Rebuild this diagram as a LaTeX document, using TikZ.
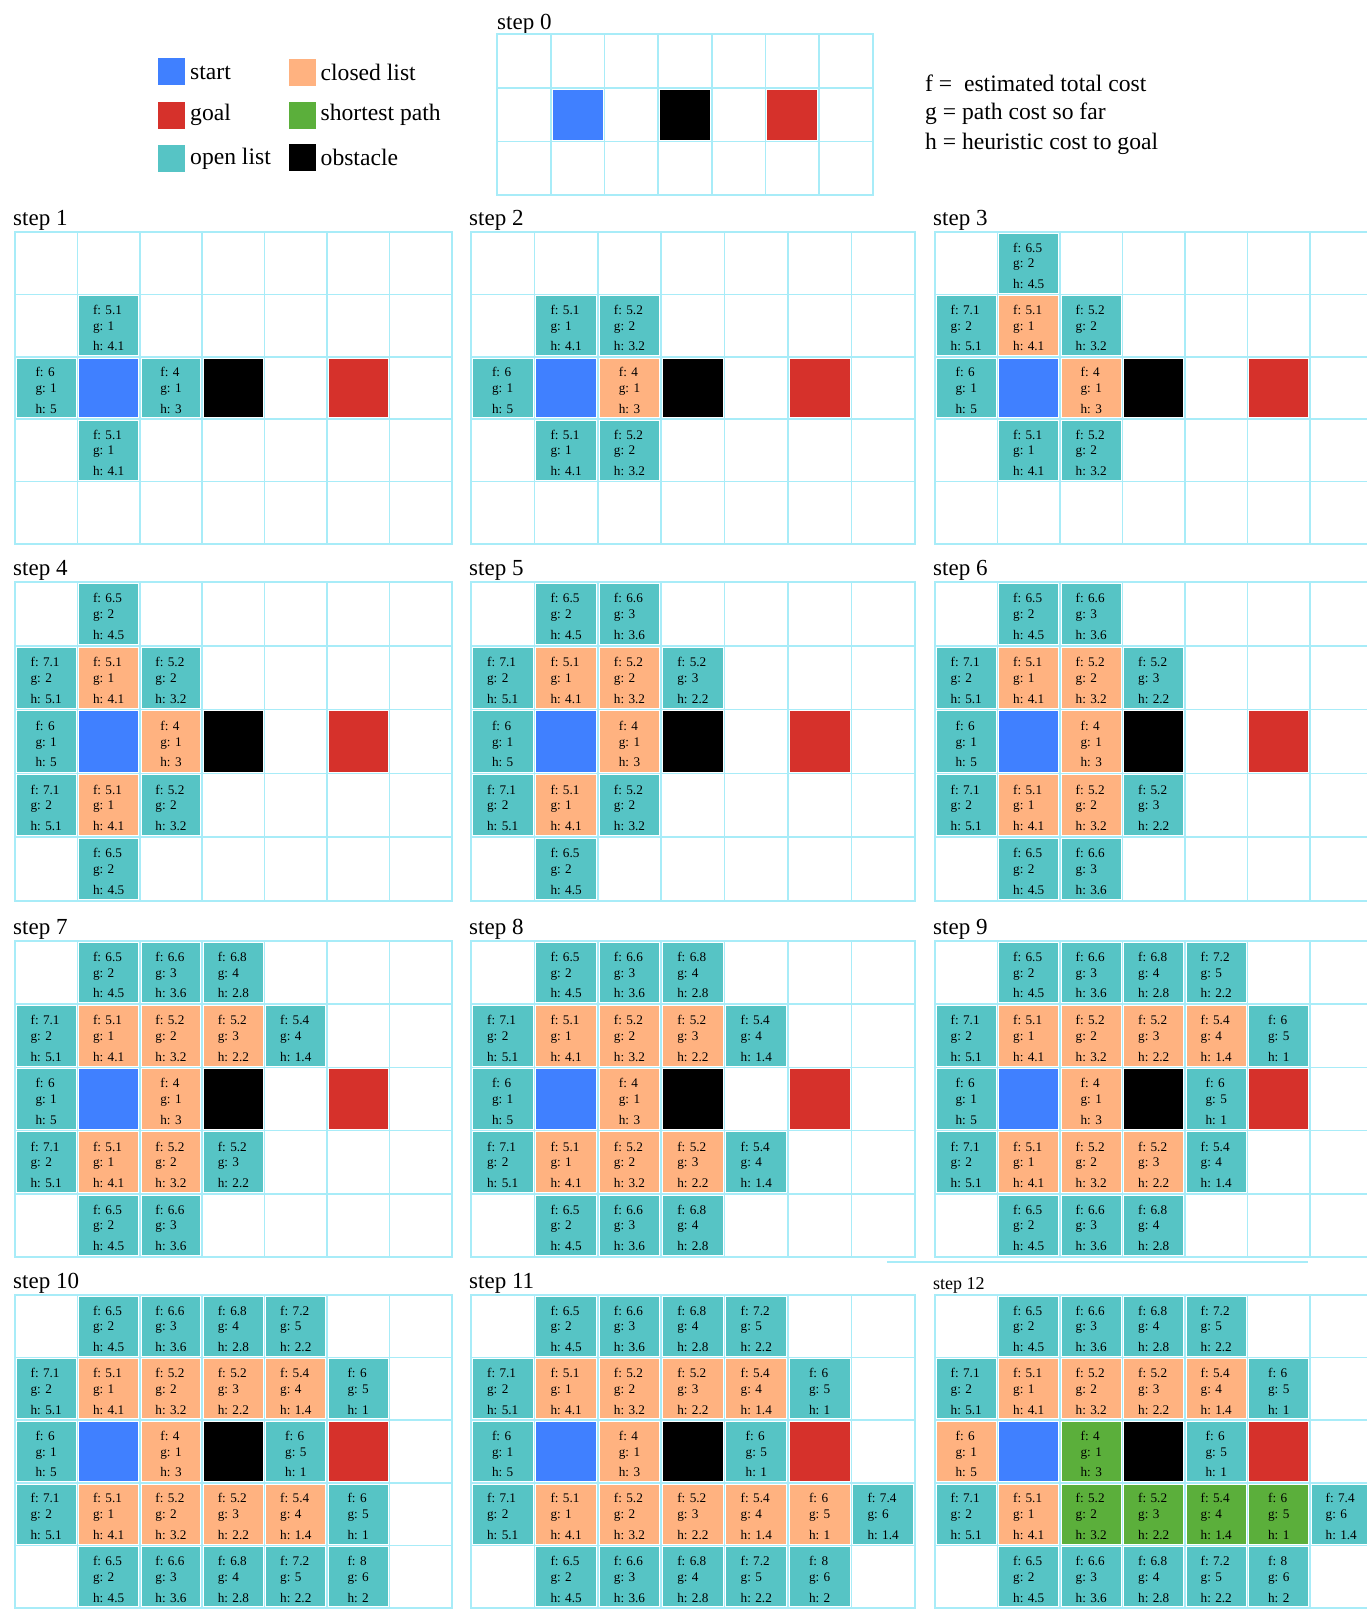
\documentclass[tikz,border=0pt]{standalone}
\usepackage{fontspec}
\setmainfont{Liberation Serif}
\definecolor{gridc}{RGB}{168,236,248}
\definecolor{startc}{RGB}{64,128,255}
\definecolor{goalc}{RGB}{214,49,43}
\definecolor{openc}{RGB}{86,196,197}
\definecolor{closedc}{RGB}{255,178,128}
\definecolor{pathc}{RGB}{91,175,59}
\tikzset{
  gl/.style={draw=gridc, line width=1.6pt, line cap=rect},
  cellbox/.style={rectangle, inner sep=0pt, align=left, text=black,
    font=\fontsize{13.2}{15.7}\selectfont,
    minimum width={(\cw-3.6)*1pt}, minimum height={(\ch-3.6)*1pt}},
  openf/.style={fill=openc}, closedf/.style={fill=closedc}, pathf/.style={fill=pathc},
  startf/.style={fill=startc}, goalf/.style={fill=goalc}, obstf/.style={fill=black},
  lab/.style={inner sep=0pt, anchor=base west, font=\fontsize{23}{27}\selectfont},
  leglab/.style={lab, font=\fontsize{23.6}{27}\selectfont},
  legsq/.style={rectangle, inner sep=0pt, minimum size=27pt}
}
\newcommand\setgrid[6]{\def\gname{#1}\def\gx{#2}\def\gy{#3}\def\cw{#4}\def\ch{#5}\def\grows{#6}%
  \foreach \i in {0,...,7}{\draw[gl] ({\gx+\i*\cw},{\gy}) -- ({\gx+\i*\cw},{\gy+\grows*\ch});}%
  \foreach \j in {0,...,\grows}{\draw[gl] ({\gx},{\gy+\j*\ch}) -- ({\gx+7*\cw},{\gy+\j*\ch});}%
}
\newcommand\cel[6]{\node[cellbox,#1] (\gname-#2-#3) at ({\gx+(#2+0.5)*\cw},{\gy+(#3+0.5)*\ch})
  {\rule{0pt}{15pt}f: #4\\g: #5\\[5.1pt]h: #6\rule[-0.9pt]{0pt}{0.9pt}};}
\newcommand\blk[3]{\node[cellbox,#1] (\gname-#2-#3) at ({\gx+(#2+0.5)*\cw},{\gy+(#3+0.5)*\ch}) {};}
\newcommand\celO{\cel{openf}}
\newcommand\celC{\cel{closedf}}
\newcommand\celP{\cel{pathf}}
\newcommand\base{\blk{startf}{1}{2}\blk{obstf}{3}{2}\blk{goalf}{5}{2}}
\begin{document}
\begin{tikzpicture}[x=1pt,y=-1pt]
\fill[white] (0,0) rectangle (1367,1609);
\useasboundingbox (0,0) rectangle (1367,1609);
% legend
\node[legsq,fill=startc] (lgs) at (171.5,71.5) {};
\node[legsq,fill=goalc] (lgg) at (171.5,115.5) {};
\node[legsq,fill=openc] (lgo) at (171.5,158.5) {};
\node[legsq,fill=closedc] (lgc) at (302.5,72.5) {};
\node[legsq,fill=pathc] (lgp) at (302.5,115.5) {};
\node[legsq,fill=black] (lgb) at (302.5,157.5) {};
\node[leglab] (lts) at (190,79) {start};
\node[leglab] (ltg) at (190,120.5) {goal};
\node[leglab] (lto) at (190,164) {open list};
\node[leglab] (ltc) at (320.5,80) {closed list};
\node[leglab] (ltp) at (320.5,120.5) {shortest path};
\node[leglab] (ltb) at (320.5,165) {obstacle};
\node[leglab] (kf) at (925,91.5) {f =\ \ estimated total cost};
\node[leglab] (kg) at (925,119) {g = path cost so far};
\node[leglab] (kh) at (925,149) {h = heuristic cost to goal};
% step 0
\node[lab] (l0) at (497,29) {step 0};
\setgrid{s0}{497}{34}{53.7}{53.7}{3}
\blk{startf}{1}{1}\blk{obstf}{3}{1}\blk{goalf}{5}{1}
% step 1
\node[lab] (l1) at (13,225) {step 1};
\setgrid{s1}{15}{232}{62.4}{62.4}{5}
\base
\celO{1}{1}{5.1}{1}{4.1}
\celO{0}{2}{6}{1}{5}
\celO{2}{2}{4}{1}{3}
\celO{1}{3}{5.1}{1}{4.1}
% step 2
\node[lab] (l2) at (469,225) {step 2};
\setgrid{s2}{471}{232}{63.4}{62.4}{5}
\base
\celO{1}{1}{5.1}{1}{4.1}
\celO{2}{1}{5.2}{2}{3.2}
\celO{0}{2}{6}{1}{5}
\celC{2}{2}{4}{1}{3}
\celO{1}{3}{5.1}{1}{4.1}
\celO{2}{3}{5.2}{2}{3.2}
% step 3
\node[lab] (l3) at (933,225) {step 3};
\setgrid{s3}{935}{232}{62.5}{62.4}{5}
\base
\celO{1}{0}{6.5}{2}{4.5}
\celO{0}{1}{7.1}{2}{5.1}
\celC{1}{1}{5.1}{1}{4.1}
\celO{2}{1}{5.2}{2}{3.2}
\celO{0}{2}{6}{1}{5}
\celC{2}{2}{4}{1}{3}
\celO{1}{3}{5.1}{1}{4.1}
\celO{2}{3}{5.2}{2}{3.2}
% step 4
\node[lab] (l4) at (13,575) {step 4};
\setgrid{s4}{15}{582}{62.4}{63.8}{5}
\base
\celO{1}{0}{6.5}{2}{4.5}
\celO{0}{1}{7.1}{2}{5.1}
\celC{1}{1}{5.1}{1}{4.1}
\celO{2}{1}{5.2}{2}{3.2}
\celO{0}{2}{6}{1}{5}
\celC{2}{2}{4}{1}{3}
\celO{0}{3}{7.1}{2}{5.1}
\celC{1}{3}{5.1}{1}{4.1}
\celO{2}{3}{5.2}{2}{3.2}
\celO{1}{4}{6.5}{2}{4.5}
% step 5
\node[lab] (l5) at (469,575) {step 5};
\setgrid{s5}{471}{582}{63.4}{63.8}{5}
\base
\celO{1}{0}{6.5}{2}{4.5}
\celO{2}{0}{6.6}{3}{3.6}
\celO{0}{1}{7.1}{2}{5.1}
\celC{1}{1}{5.1}{1}{4.1}
\celC{2}{1}{5.2}{2}{3.2}
\celO{3}{1}{5.2}{3}{2.2}
\celO{0}{2}{6}{1}{5}
\celC{2}{2}{4}{1}{3}
\celO{0}{3}{7.1}{2}{5.1}
\celC{1}{3}{5.1}{1}{4.1}
\celO{2}{3}{5.2}{2}{3.2}
\celO{1}{4}{6.5}{2}{4.5}
% step 6
\node[lab] (l6) at (933,575) {step 6};
\setgrid{s6}{935}{582}{62.5}{63.8}{5}
\base
\celO{1}{0}{6.5}{2}{4.5}
\celO{2}{0}{6.6}{3}{3.6}
\celO{0}{1}{7.1}{2}{5.1}
\celC{1}{1}{5.1}{1}{4.1}
\celC{2}{1}{5.2}{2}{3.2}
\celO{3}{1}{5.2}{3}{2.2}
\celO{0}{2}{6}{1}{5}
\celC{2}{2}{4}{1}{3}
\celO{0}{3}{7.1}{2}{5.1}
\celC{1}{3}{5.1}{1}{4.1}
\celC{2}{3}{5.2}{2}{3.2}
\celO{3}{3}{5.2}{3}{2.2}
\celO{1}{4}{6.5}{2}{4.5}
\celO{2}{4}{6.6}{3}{3.6}
% step 7
\node[lab] (l7) at (13,934) {step 7};
\setgrid{s7}{15}{941}{62.4}{63.2}{5}
\base
\celO{1}{0}{6.5}{2}{4.5}
\celO{2}{0}{6.6}{3}{3.6}
\celO{3}{0}{6.8}{4}{2.8}
\celO{0}{1}{7.1}{2}{5.1}
\celC{1}{1}{5.1}{1}{4.1}
\celC{2}{1}{5.2}{2}{3.2}
\celC{3}{1}{5.2}{3}{2.2}
\celO{4}{1}{5.4}{4}{1.4}
\celO{0}{2}{6}{1}{5}
\celC{2}{2}{4}{1}{3}
\celO{0}{3}{7.1}{2}{5.1}
\celC{1}{3}{5.1}{1}{4.1}
\celC{2}{3}{5.2}{2}{3.2}
\celO{3}{3}{5.2}{3}{2.2}
\celO{1}{4}{6.5}{2}{4.5}
\celO{2}{4}{6.6}{3}{3.6}
% step 8
\node[lab] (l8) at (469,934) {step 8};
\setgrid{s8}{471}{941}{63.4}{63.2}{5}
\base
\celO{1}{0}{6.5}{2}{4.5}
\celO{2}{0}{6.6}{3}{3.6}
\celO{3}{0}{6.8}{4}{2.8}
\celO{0}{1}{7.1}{2}{5.1}
\celC{1}{1}{5.1}{1}{4.1}
\celC{2}{1}{5.2}{2}{3.2}
\celC{3}{1}{5.2}{3}{2.2}
\celO{4}{1}{5.4}{4}{1.4}
\celO{0}{2}{6}{1}{5}
\celC{2}{2}{4}{1}{3}
\celO{0}{3}{7.1}{2}{5.1}
\celC{1}{3}{5.1}{1}{4.1}
\celC{2}{3}{5.2}{2}{3.2}
\celC{3}{3}{5.2}{3}{2.2}
\celO{4}{3}{5.4}{4}{1.4}
\celO{1}{4}{6.5}{2}{4.5}
\celO{2}{4}{6.6}{3}{3.6}
\celO{3}{4}{6.8}{4}{2.8}
% step 9
\node[lab] (l9) at (933,934) {step 9};
\setgrid{s9}{935}{941}{62.5}{63.2}{5}
\base
\celO{1}{0}{6.5}{2}{4.5}
\celO{2}{0}{6.6}{3}{3.6}
\celO{3}{0}{6.8}{4}{2.8}
\celO{4}{0}{7.2}{5}{2.2}
\celO{0}{1}{7.1}{2}{5.1}
\celC{1}{1}{5.1}{1}{4.1}
\celC{2}{1}{5.2}{2}{3.2}
\celC{3}{1}{5.2}{3}{2.2}
\celC{4}{1}{5.4}{4}{1.4}
\celO{5}{1}{6}{5}{1}
\celO{0}{2}{6}{1}{5}
\celC{2}{2}{4}{1}{3}
\celO{4}{2}{6}{5}{1}
\celO{0}{3}{7.1}{2}{5.1}
\celC{1}{3}{5.1}{1}{4.1}
\celC{2}{3}{5.2}{2}{3.2}
\celC{3}{3}{5.2}{3}{2.2}
\celO{4}{3}{5.4}{4}{1.4}
\celO{1}{4}{6.5}{2}{4.5}
\celO{2}{4}{6.6}{3}{3.6}
\celO{3}{4}{6.8}{4}{2.8}
% stray separator line
\draw[gl] (888,1262) -- (1307,1262);
% step 10
\node[lab] (l10) at (13,1288) {step 10};
\setgrid{s10}{15}{1295}{62.4}{62.6}{5}
\base
\celO{1}{0}{6.5}{2}{4.5}
\celO{2}{0}{6.6}{3}{3.6}
\celO{3}{0}{6.8}{4}{2.8}
\celO{4}{0}{7.2}{5}{2.2}
\celO{0}{1}{7.1}{2}{5.1}
\celC{1}{1}{5.1}{1}{4.1}
\celC{2}{1}{5.2}{2}{3.2}
\celC{3}{1}{5.2}{3}{2.2}
\celC{4}{1}{5.4}{4}{1.4}
\celO{5}{1}{6}{5}{1}
\celO{0}{2}{6}{1}{5}
\celC{2}{2}{4}{1}{3}
\celO{4}{2}{6}{5}{1}
\celO{0}{3}{7.1}{2}{5.1}
\celC{1}{3}{5.1}{1}{4.1}
\celC{2}{3}{5.2}{2}{3.2}
\celC{3}{3}{5.2}{3}{2.2}
\celC{4}{3}{5.4}{4}{1.4}
\celO{5}{3}{6}{5}{1}
\celO{1}{4}{6.5}{2}{4.5}
\celO{2}{4}{6.6}{3}{3.6}
\celO{3}{4}{6.8}{4}{2.8}
\celO{4}{4}{7.2}{5}{2.2}
\celO{5}{4}{8}{6}{2}
% step 11
\node[lab] (l11) at (469,1288) {step 11};
\setgrid{s11}{471}{1295}{63.4}{62.6}{5}
\base
\celO{1}{0}{6.5}{2}{4.5}
\celO{2}{0}{6.6}{3}{3.6}
\celO{3}{0}{6.8}{4}{2.8}
\celO{4}{0}{7.2}{5}{2.2}
\celO{0}{1}{7.1}{2}{5.1}
\celC{1}{1}{5.1}{1}{4.1}
\celC{2}{1}{5.2}{2}{3.2}
\celC{3}{1}{5.2}{3}{2.2}
\celC{4}{1}{5.4}{4}{1.4}
\celO{5}{1}{6}{5}{1}
\celO{0}{2}{6}{1}{5}
\celC{2}{2}{4}{1}{3}
\celO{4}{2}{6}{5}{1}
\celO{0}{3}{7.1}{2}{5.1}
\celC{1}{3}{5.1}{1}{4.1}
\celC{2}{3}{5.2}{2}{3.2}
\celC{3}{3}{5.2}{3}{2.2}
\celC{4}{3}{5.4}{4}{1.4}
\celC{5}{3}{6}{5}{1}
\celO{6}{3}{7.4}{6}{1.4}
\celO{1}{4}{6.5}{2}{4.5}
\celO{2}{4}{6.6}{3}{3.6}
\celO{3}{4}{6.8}{4}{2.8}
\celO{4}{4}{7.2}{5}{2.2}
\celO{5}{4}{8}{6}{2}
% step 12
\node[lab,font=\fontsize{18}{22}\selectfont] (l12) at (933,1289) {step 12};
\setgrid{s12}{935}{1295}{62.5}{62.6}{5}
\base
\celO{1}{0}{6.5}{2}{4.5}
\celO{2}{0}{6.6}{3}{3.6}
\celO{3}{0}{6.8}{4}{2.8}
\celO{4}{0}{7.2}{5}{2.2}
\celO{0}{1}{7.1}{2}{5.1}
\celC{1}{1}{5.1}{1}{4.1}
\celC{2}{1}{5.2}{2}{3.2}
\celC{3}{1}{5.2}{3}{2.2}
\celC{4}{1}{5.4}{4}{1.4}
\celO{5}{1}{6}{5}{1}
\celC{0}{2}{6}{1}{5}
\celP{2}{2}{4}{1}{3}
\celO{4}{2}{6}{5}{1}
\celO{0}{3}{7.1}{2}{5.1}
\celC{1}{3}{5.1}{1}{4.1}
\celP{2}{3}{5.2}{2}{3.2}
\celP{3}{3}{5.2}{3}{2.2}
\celP{4}{3}{5.4}{4}{1.4}
\celP{5}{3}{6}{5}{1}
\celO{6}{3}{7.4}{6}{1.4}
\celO{1}{4}{6.5}{2}{4.5}
\celO{2}{4}{6.6}{3}{3.6}
\celO{3}{4}{6.8}{4}{2.8}
\celO{4}{4}{7.2}{5}{2.2}
\celO{5}{4}{8}{6}{2}
\end{tikzpicture}
\end{document}
